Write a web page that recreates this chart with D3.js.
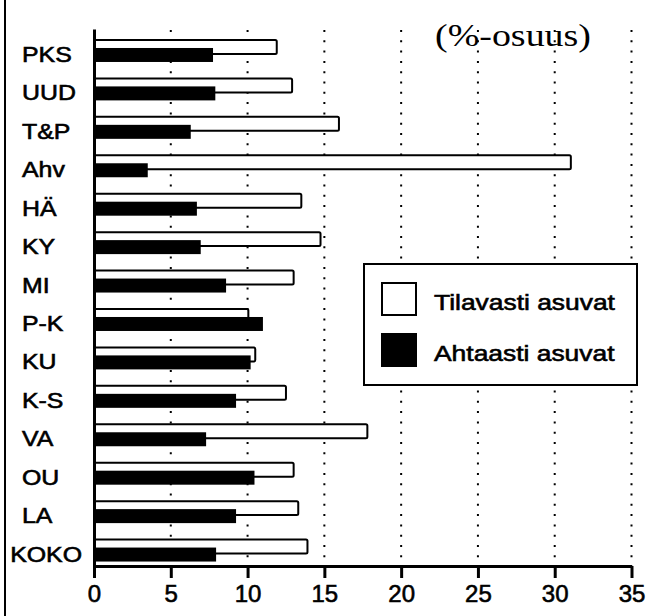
<!DOCTYPE html>
<html>
<head>
<meta charset="utf-8">
<script src="https://cdn.jsdelivr.net/npm/d3@7"></script>
<style>
  html, body { margin: 0; padding: 0; background: #fff; }
  svg { display: block; }
  .sans { font-family: "Liberation Sans", Arial, sans-serif; }
  .sans text { stroke: #000; stroke-width: 0.6px; }
</style>
</head>
<body>
<div id="chart"></div>
<script>
// data
const categories = ['PKS', 'UUD', 'T&P', 'Ahv', 'HÄ', 'KY', 'MI', 'P-K', 'KU', 'K-S', 'VA', 'OU', 'LA', 'KOKO'];
const tilavasti = [11.9, 12.9, 15.95, 31.05, 13.5, 14.75, 13.0, 10.05, 10.5, 12.5, 17.8, 13.0, 13.3, 13.9];
const ahtaasti  = [7.75, 7.9, 6.3, 3.5, 6.7, 6.95, 8.6, 11.0, 10.2, 9.25, 7.3, 10.45, 9.25, 7.95];
const xTicks = [0, 5, 10, 15, 20, 25, 30, 35];
const seriesNames = ['Tilavasti asuvat', 'Ahtaasti asuvat'];
const unitLabel = '(%-osuus)';

(function () {
  const width = 650, height = 616;
  const svg = d3.select('#chart').append('svg')
    .attr('width', width).attr('height', height)
    .attr('viewBox', `0 0 ${width} ${height}`);

  const x = d3.scaleLinear().domain([0, 35]).range([94, 631.5]);
  const y = d3.scaleBand().domain(categories).range([29, 567]).padding(0);
  const bw = y.bandwidth();
  const barH = bw * 0.364;

  const rows = categories.map((c, i) => ({ c, t: tilavasti[i], a: ahtaasti[i] }));

  // stretch text horizontally (the scan is wider than tall)
  function stretch(sel, k) {
    sel.each(function () {
      const w = this.getComputedTextLength();
      d3.select(this).attr('textLength', w * k).attr('lengthAdjust', 'spacingAndGlyphs');
    });
  }

  // frame line on the left
  svg.append('line')
    .attr('x1', 5).attr('x2', 5).attr('y1', 0).attr('y2', height)
    .attr('stroke', '#000').attr('stroke-width', 2);

  // dotted grid
  svg.append('g').selectAll('line').data(xTicks.slice(1)).join('line')
    .attr('x1', d => x(d)).attr('x2', d => x(d))
    .attr('y1', 30).attr('y2', 566)
    .attr('stroke', '#000').attr('stroke-width', 2)
    .attr('stroke-dasharray', '2,8.3');

  // bars
  const bars = svg.append('g');
  bars.selectAll('rect.t').data(rows).join('rect')
    .attr('class', 't')
    .attr('x', x(0))
    .attr('y', d => y(d.c) + bw * 0.286)
    .attr('width', d => x(d.t) - x(0))
    .attr('height', barH)
    .attr('rx', 1.5)
    .attr('fill', '#fff').attr('stroke', '#000').attr('stroke-width', 2);

  bars.selectAll('rect.a').data(rows).join('rect')
    .attr('class', 'a')
    .attr('x', x(0))
    .attr('y', d => y(d.c) + bw * 0.494)
    .attr('width', d => x(d.a) - x(0))
    .attr('height', barH)
    .attr('fill', '#000');

  // y axis line
  svg.append('g')
    .attr('transform', `translate(${x(0)},0)`)
    .call(d3.axisLeft(y).tickSize(0).tickSizeOuter(0).tickFormat(''))
    .call(g => g.select('.domain').attr('stroke-width', 3));

  // category labels
  const labels = svg.append('g').attr('class', 'sans').selectAll('text').data(categories).join('text')
    .attr('y', d => y(d) + bw * 0.86)
    .attr('font-size', 22)
    .text(d => d);
  stretch(labels, 1.13);
  labels.attr('x', function () {
    const w = +this.getAttribute('textLength');
    return Math.min(22, 82 - w);
  });

  // x axis
  svg.append('g')
    .attr('class', 'sans')
    .attr('transform', 'translate(0,566)')
    .call(d3.axisBottom(x).tickValues(xTicks).tickSize(12).tickSizeOuter(0).tickPadding(7))
    .call(g => g.select('.domain').attr('stroke-width', 3))
    .call(g => g.selectAll('.tick line').attr('stroke-width', 3))
    .call(g => g.selectAll('.tick text').attr('font-size', 24).attr('fill', '#000'));

  // legend
  const lg = svg.append('g').attr('class', 'sans');
  lg.append('rect')
    .attr('x', 364).attr('y', 264).attr('width', 273).attr('height', 121)
    .attr('fill', '#fff').attr('stroke', '#000').attr('stroke-width', 2);
  const items = lg.selectAll('g.item').data(seriesNames).join('g')
    .attr('class', 'item')
    .attr('transform', (d, i) => `translate(0,${i * 51})`);
  items.append('rect')
    .attr('x', 382).attr('y', 283).attr('width', 34).attr('height', 32)
    .attr('fill', (d, i) => i === 0 ? '#fff' : '#000')
    .attr('stroke', '#000').attr('stroke-width', 2);
  const ltext = items.append('text')
    .attr('x', 434).attr('y', 310)
    .attr('font-size', 22)
    .text(d => d);
  stretch(ltext, 1.2);

  // unit label
  const ut = svg.append('text')
    .attr('x', 435).attr('y', 46)
    .attr('font-family', '"Liberation Serif", "Times New Roman", serif')
    .attr('font-size', 32)
    .text(unitLabel);
  ut.attr('textLength', 156).attr('lengthAdjust', 'spacingAndGlyphs');
})();
</script>
</body>
</html>
